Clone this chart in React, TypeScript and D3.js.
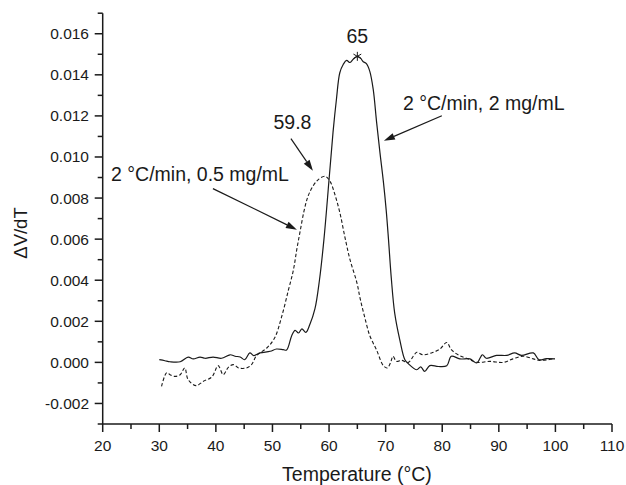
import React from "react";
import * as d3 from "d3";

const W = 626;
const H = 485;

// Series: 2 °C/min, 2 mg/mL (solid)
const solidT = [30.0, 31.0, 31.9, 33.7, 35.1, 36.0, 37.2, 38.1, 39.5, 41.0, 42.5, 43.4, 44.3, 45.1, 46.0, 46.7, 47.8, 49.6, 50.7, 51.9, 52.5, 53.4, 54.0, 54.6, 55.2, 55.9, 56.6, 57.5, 58.3, 59.1, 60.0, 60.7, 61.3, 61.9, 62.5, 63.1, 63.7, 64.3, 65.0, 65.6, 66.0, 66.6, 67.2, 67.8, 68.4, 69.0, 69.6, 70.1, 70.5, 71.0, 71.6, 72.5, 73.4, 74.0, 75.5, 76.2, 76.9, 77.8, 79.3, 80.8, 81.6, 83.1, 84.9, 86.1, 87.1, 87.8, 89.6, 91.4, 92.8, 94.0, 96.1, 97.1, 98.4, 99.9];
const solidV = [0.00013, 0.00008, 0.00003, 0.00003, 0.00026, 0.00017, 0.00026, 0.0002, 0.00026, 0.0002, 0.00037, 0.0003, 0.00026, 0.00013, 0.00046, 0.00033, 0.00046, 0.00054, 0.00065, 0.00062, 0.0006, 0.0013, 0.00156, 0.00143, 0.00163, 0.00146, 0.00184, 0.0026, 0.004, 0.006, 0.0089, 0.0112, 0.0128, 0.0141, 0.0145, 0.0147, 0.0146, 0.01477, 0.0149, 0.0148, 0.01465, 0.01454, 0.01417, 0.0133, 0.0117, 0.0102, 0.0088, 0.0074, 0.006, 0.0041, 0.0024, 0.0011, 0.00013, -0.00006, -0.00036, -0.00022, -0.00044, -0.00016, -0.0002, -0.00016, 0.0003, 0.00017, 0.00017, -0.00003, 0.00037, 0.0002, 0.00034, 0.00034, 0.00046, 0.00034, 0.00046, 0.00013, 0.00018, 0.00017];

// Series: 2 °C/min, 0.5 mg/mL (dashed)
const dashT = [30.4, 31.3, 31.9, 32.8, 33.7, 34.5, 35.1, 36.5, 37.8, 39.3, 40.4, 41.3, 42.2, 43.1, 44.0, 45.4, 46.3, 47.2, 49.0, 50.4, 51.6, 52.8, 53.7, 54.3, 54.9, 55.6, 56.3, 57.2, 58.1, 59.3, 60.2, 61.0, 61.9, 62.8, 63.7, 64.9, 65.5, 66.3, 67.2, 68.4, 69.6, 70.3, 70.9, 71.3, 71.9, 72.8, 74.0, 74.9, 75.5, 76.6, 78.1, 79.6, 80.8, 81.6, 82.8, 84.3, 86.1, 88.4, 90.8, 92.5, 94.3, 96.1, 97.2, 99.9];
const dashV = [-0.00117, -0.0005, -0.0006, -0.00068, -0.0006, -0.00027, -0.00084, -0.00113, -0.00092, -0.00071, -0.00016, -0.0006, -0.00024, -0.00011, -0.00027, -0.00027, -0.00011, 0.00033, 0.0007, 0.0012, 0.0022, 0.0035, 0.0045, 0.0055, 0.0064, 0.0074, 0.0081, 0.0086, 0.0089, 0.00906, 0.0088, 0.0082, 0.0073, 0.0061, 0.005, 0.0039, 0.0031, 0.0022, 0.0013, 0.0006, -0.00016, -0.00027, 0.00001, 0.0003, 0.00005, 0.0001, 0, 0.0003, 0.00049, 0.00037, 0.00046, 0.00065, 0.00097, 0.00062, 0.00037, 0.0002, 0, 0.00005, 0, 0.00017, 0.0003, 0.00017, 0.0001, 0.00018];

const xTicks = [20, 30, 40, 50, 60, 70, 80, 90, 100, 110];
const xMinor = [25, 35, 45, 55, 65, 75, 85, 95, 105];
const yTicks = [-0.002, 0, 0.002, 0.004, 0.006, 0.008, 0.01, 0.012, 0.014, 0.016];
const yMinor = [-0.003, -0.001, 0.001, 0.003, 0.005, 0.007, 0.009, 0.011, 0.013, 0.015, 0.017];

const peakT = 65;
const peakV = 0.0149;

// annotations (data coordinates)
const labelTexts = ["65", "59.8", "2 °C/min, 0.5 mg/mL", "2 °C/min, 2 mg/mL"];
const labelX = [65, 53.53, 21.47, 73.05];
const labelY = [0.01555, 0.01138, 0.00881, 0.0123];
const labelAnchor = ["middle", "middle", "start", "start"];

const arrowFromX = [53.26, 39.48, 79.93];
const arrowFromY = [0.01089, 0.00846, 0.01201];
const arrowToX = [57.15, 54.32, 69.69];
const arrowToY = [0.00933, 0.00646, 0.01079];

const FONT = "Liberation Sans, Arial, Helvetica, sans-serif";
const INK = "#1a1a1a";

export default function App() {
  const x = d3.scaleLinear().domain([20, 110]).range([102.7, 612]);
  const y = d3.scaleLinear().domain([-0.003, 0.017]).range([424, 13.2]);

  const line = d3
    .line<[number, number]>()
    .x((d) => x(d[0]))
    .y((d) => y(d[1]))
    .curve(d3.curveCatmullRom.alpha(0.5));

  const solidPath = line(solidT.map((t, i) => [t, solidV[i]] as [number, number])) || "";
  const dashPath = line(dashT.map((t, i) => [t, dashV[i]] as [number, number])) || "";

  const x0 = x(20);
  const y0 = y(-0.003);

  const arrows = arrowFromX.map((_, i) => {
    const x1 = x(arrowFromX[i]);
    const y1 = y(arrowFromY[i]);
    const x2 = x(arrowToX[i]);
    const y2 = y(arrowToY[i]);
    const ang = Math.atan2(y2 - y1, x2 - x1);
    const L = 11;
    const Wd = 3.5;
    const bx = x2 - L * Math.cos(ang);
    const by = y2 - L * Math.sin(ang);
    const px = -Math.sin(ang) * Wd;
    const py = Math.cos(ang) * Wd;
    return { x1, y1, x2, y2, bx, by, px, py };
  });

  const px = x(peakT);
  const py = y(peakV);
  const starR = 4.5;

  return (
    <svg
      width={W}
      height={H}
      style={{ position: "absolute", left: 0, top: 0, background: "#fff" }}
      fontFamily={FONT}
    >
      <rect x={0} y={0} width={W} height={H} fill="#fff" />
      {/* axes */}
      <line x1={x0} y1={y0} x2={x(110)} y2={y0} stroke={INK} strokeWidth={1.5} />
      <line x1={x0} y1={y0} x2={x0} y2={y(0.017)} stroke={INK} strokeWidth={1.5} />
      {xTicks.map((t) => (
        <g key={"xt" + t}>
          <line x1={x(t)} x2={x(t)} y1={y0} y2={y0 + 8} stroke={INK} strokeWidth={1.5} />
          <text x={x(t)} y={451} textAnchor="middle" fontSize={15.5} fill={INK}>
            {t}
          </text>
        </g>
      ))}
      {xMinor.map((t) => (
        <line key={"xm" + t} x1={x(t)} x2={x(t)} y1={y0} y2={y0 + 5} stroke={INK} strokeWidth={1.5} />
      ))}
      {yTicks.map((t) => (
        <g key={"yt" + t}>
          <line x1={x0 - 8} x2={x0} y1={y(t)} y2={y(t)} stroke={INK} strokeWidth={1.5} />
          <text x={89} y={y(t) + 5.5} textAnchor="end" fontSize={15.5} fill={INK}>
            {d3.format(".3f")(t).replace("−", "-")}
          </text>
        </g>
      ))}
      {yMinor.map((t) => (
        <line key={"ym" + t} x1={x0 - 5} x2={x0} y1={y(t)} y2={y(t)} stroke={INK} strokeWidth={1.5} />
      ))}
      <text x={357} y={481} textAnchor="middle" fontSize={19.5} fill={INK}>
        Temperature (°C)
      </text>
      <text
        transform={`translate(27,233) rotate(-90)`}
        textAnchor="middle"
        fontSize={18.5}
        fill={INK}
      >
        ΔV/dT
      </text>

      {/* curves */}
      <path d={dashPath} fill="none" stroke={INK} strokeWidth={1.1} strokeDasharray="3.5,2.2" />
      <path d={solidPath} fill="none" stroke={INK} strokeWidth={1.2} />

      {/* peak star */}
      <g stroke={INK} strokeWidth={1}>
        {[0, 60, 120].map((a) => {
          const r = (a * Math.PI) / 180;
          return (
            <line
              key={a}
              x1={px - starR * Math.sin(r)}
              y1={py - starR * Math.cos(r)}
              x2={px + starR * Math.sin(r)}
              y2={py + starR * Math.cos(r)}
            />
          );
        })}
      </g>

      {/* annotations */}
      {labelTexts.map((s, i) => (
        <text
          key={"lb" + i}
          x={x(labelX[i])}
          y={y(labelY[i])}
          textAnchor={labelAnchor[i] as any}
          fontSize={19.5}
          fill={INK}
        >
          {s}
        </text>
      ))}
      {arrows.map((a, i) => (
        <g key={"ar" + i}>
          <line x1={a.x1} y1={a.y1} x2={a.bx} y2={a.by} stroke={INK} strokeWidth={1.2} />
          <polygon
            points={`${a.x2},${a.y2} ${a.bx + a.px},${a.by + a.py} ${a.bx - a.px},${a.by - a.py}`}
            fill={INK}
          />
        </g>
      ))}
    </svg>
  );
}
